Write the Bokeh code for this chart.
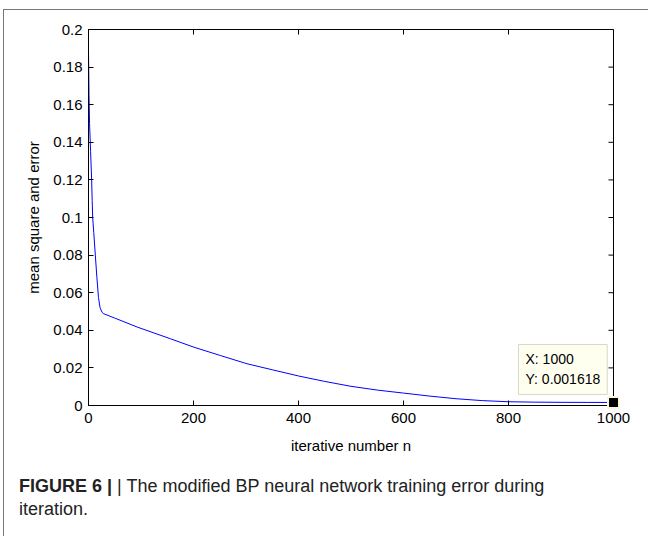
import math
from bokeh.plotting import figure
from bokeh.models import Range1d, FixedTicker, CustomJSTickFormatter, Label, Div
from bokeh.layouts import column
from bokeh.embed import file_html
from bokeh.resources import INLINE

# ---- data ----
iterations = [0, 1, 2, 4, 6, 7, 8, 10, 13, 16, 19, 22, 26, 29, 50, 93, 156, 201,
              251, 302, 350, 400, 450, 500, 550, 600, 650, 700, 750, 800, 850,
              900, 950, 1000]
mse = [0.188, 0.165, 0.150, 0.135, 0.120, 0.109, 0.100, 0.092, 0.080, 0.068,
       0.0575, 0.052, 0.0495, 0.0488, 0.0465, 0.0417, 0.0355, 0.031, 0.0266,
       0.0222, 0.0190, 0.0157, 0.0128, 0.0102, 0.0082, 0.0066, 0.0050, 0.0036,
       0.0026, 0.0020, 0.00178, 0.00168, 0.00164, 0.001618]
x_ticks = [0, 200, 400, 600, 800, 1000]
y_ticks = [0, 0.02, 0.04, 0.06, 0.08, 0.1, 0.12, 0.14, 0.16, 0.18, 0.2]
x_label = "iterative number n"
y_label = "mean square and error"
caption_bold = "FIGURE 6 |"
caption_text = "| The modified BP neural network training error during"
caption_text2 = "iteration."

FONT = "Liberation Sans"

p = figure(width=644, height=450, output_backend="svg", toolbar_location=None,
           x_range=Range1d(x_ticks[0], x_ticks[-1]), y_range=Range1d(y_ticks[0], y_ticks[-1]),
           min_border_left=84, min_border_right=35, min_border_top=19,
           min_border_bottom=55)
p.background_fill_color = "white"
p.border_fill_color = "white"
p.outline_line_color = "black"
p.grid.visible = False

p.line(iterations, mse, color="#0000ff", line_width=1)

fmt = CustomJSTickFormatter(code="return String(parseFloat(tick.toFixed(4)));")

for ax in p.xaxis:
    ax.ticker = FixedTicker(ticks=x_ticks)
    ax.axis_label = x_label
    ax.major_label_standoff = 7
    ax.axis_label_standoff = 11
for ax in p.yaxis:
    ax.ticker = FixedTicker(ticks=y_ticks)
    ax.formatter = fmt
    ax.axis_label = y_label
    ax.major_label_standoff = 6
    ax.axis_label_standoff = 8

for ax in p.xaxis + p.yaxis:
    ax.minor_tick_line_color = None
    ax.major_tick_in = 5
    ax.major_tick_out = 0
    ax.axis_line_color = "black"
    ax.major_tick_line_color = "black"
    ax.major_label_text_font = FONT
    ax.major_label_text_font_size = "15px"
    ax.major_label_text_color = "black"
    ax.axis_label_text_font = FONT
    ax.axis_label_text_font_size = "15px"
    ax.axis_label_text_font_style = "normal"
    ax.axis_label_text_color = "black"

# inward ticks on the top and right edges (outer halves are clipped by the frame)
p.scatter(x_ticks, [y_ticks[-1]] * len(x_ticks), marker="dash", size=10,
          angle=math.pi / 2, line_color="black", line_width=1)
p.scatter([x_ticks[-1]] * len(y_ticks), y_ticks, marker="dash", size=10,
          line_color="black", line_width=1)

# data tip at the last point
tip_x = iterations[-1]
tip_y = mse[-1]
p.scatter([tip_x], [tip_y], marker="square", size=11, fill_color="black",
          line_color="#fbf7d8", line_width=2, level="overlay")
tip = Label(x=tip_x, y=tip_y, text=f"X: {tip_x}\nY: {tip_y}",
            text_font=FONT, text_font_size="14px", text_color="black",
            text_align="left", text_baseline="bottom", text_line_height=1.25,
            x_offset=-95, y_offset=8,
            background_fill_color="#fffff0", border_line_color="#d8d8c8",
            padding=7)
p.add_layout(tip)

caption = Div(
    text=f"<b>{caption_bold}</b> {caption_text}<br>{caption_text2}",
    width=644, height=68,
    styles={"font-family": FONT, "font-size": "18px", "line-height": "23px",
            "color": "#222", "padding-top": "10px", "padding-left": "10px"})

layout = column(p, caption, width=645,
                styles={"border-top": "1px solid #777", "border-left": "1px solid #777",
                        "margin-left": "3px", "margin-top": "9px"})

open("out.html", "w").write(file_html(layout, INLINE))
